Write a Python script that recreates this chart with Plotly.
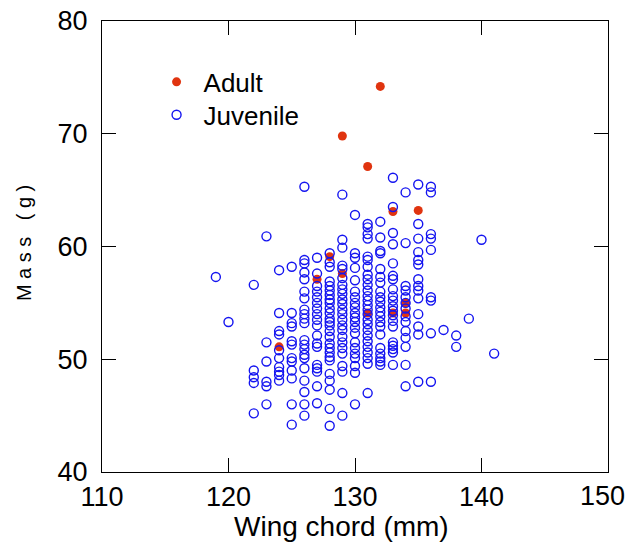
import plotly.graph_objects as go

# Wing chord (mm) and body mass (g) of adult birds
adult_wing = [124, 127, 128, 129, 129, 131, 131, 132, 133, 133, 134, 134, 135]
adult_mass = [51.1, 57.1, 59.1, 57.6, 69.8, 67.1, 54.1, 74.2, 63.1, 54.1, 54.1, 55.0, 63.2]

# Juvenile masses (g) grouped by wing chord (mm)
juvenile_by_wing = {
    119: [57.3],
    120: [53.3],
    122: [56.6, 49.0, 48.4, 47.9, 45.2],
    123: [60.9, 51.5, 49.8, 48.0, 47.6, 46.0],
    124: [57.9, 54.1, 52.5, 52.2, 50.8, 50.1, 49.3, 48.9, 48.6, 48.1],
    125: [58.2, 54.1, 53.2, 52.9, 51.6, 51.3, 50.1, 49.8, 49.0, 48.3, 46.0, 44.2],
    126: [65.3, 58.8, 58.5, 57.7, 57.1, 56.0, 55.4, 54.4, 54.0, 53.6, 53.2, 51.7,
          51.3, 50.9, 50.4, 50.1, 49.2, 48.1, 47.1, 46.0, 45.0],
    127: [59.0, 57.6, 56.5, 56.0, 55.5, 55.0, 54.5, 54.0, 53.5, 53.0, 52.1, 51.4,
          51.1, 49.5, 49.2, 48.9, 47.6, 46.1],
    128: [59.4, 58.6, 58.2, 56.9, 56.5, 56.1, 55.7, 55.3, 55.0, 54.5, 54.1, 53.6,
          53.3, 53.0, 52.5, 52.0, 51.4, 51.0, 50.6, 50.2, 49.9, 48.7, 48.1, 47.3,
          45.6, 44.1],
    129: [64.6, 60.6, 59.9, 58.3, 58.0, 57.2, 56.6, 56.2, 55.8, 55.3, 54.9, 54.4,
          54.0, 53.5, 53.0, 52.6, 52.0, 51.5, 51.0, 50.5, 49.4, 48.9, 47.0, 45.0],
    130: [62.8, 59.4, 59.0, 58.1, 57.0, 56.0, 55.5, 55.0, 54.6, 54.1, 53.7, 53.3,
          52.8, 52.3, 51.5, 51.0, 50.5, 50.1, 49.4, 48.8, 46.0],
    131: [62.0, 61.7, 61.1, 60.7, 59.1, 58.8, 58.2, 57.5, 57.1, 56.6, 56.1, 55.6,
          55.2, 54.8, 54.4, 54.0, 53.5, 53.1, 52.6, 52.1, 51.6, 51.1, 50.6, 50.1,
          49.6, 47.0],
    132: [62.2, 60.8, 59.6, 59.4, 58.0, 57.3, 56.8, 56.0, 55.5, 55.1, 54.6, 54.2,
          53.8, 53.3, 52.9, 52.2, 51.0, 50.5, 50.1, 49.8, 49.5],
    133: [66.1, 63.5, 61.2, 60.2, 58.5, 57.4, 57.1, 56.2, 55.6, 55.2, 54.7, 54.3,
          53.9, 53.4, 52.9, 51.5, 51.2, 50.9, 50.6, 49.5],
    134: [64.8, 60.3, 56.5, 56.1, 55.5, 55.0, 54.5, 53.8, 53.3, 52.5, 51.9, 51.1,
          49.5, 47.6],
    135: [65.5, 62.0, 60.7, 59.5, 58.8, 58.4, 57.1, 56.5, 56.1, 55.4, 54.0, 52.9,
          52.2, 48.0],
    136: [65.3, 64.8, 61.1, 60.7, 59.7, 55.5, 55.2, 52.3, 48.0],
    137: [52.6],
    138: [52.1, 51.1],
    139: [53.6],
    140: [60.6],
    141: [50.5],
}

juvenile_wing = [w for w, masses in juvenile_by_wing.items() for _ in masses]
juvenile_mass = [m for masses in juvenile_by_wing.values() for m in masses]

x_ticks = [110, 120, 130, 140, 150]
y_ticks = [40, 50, 60, 70, 80]
x_ticktext = ["110", "120", "130", "140", "150"]

RED = "#e0340f"
BLUE = "#1414f0"
FONT = "Liberation Sans, Arial, sans-serif"
TICK_SIZE = 27

fig = go.Figure()

fig.add_trace(go.Scatter(
    x=adult_wing, y=adult_mass, mode="markers", name="Adult", legend="legend",
    marker=dict(symbol="circle", size=9, color=RED, line=dict(width=0)),
))
fig.add_trace(go.Scatter(
    x=juvenile_wing, y=juvenile_mass, mode="markers", name="Juvenile", legend="legend2",
    marker=dict(symbol="circle-open", size=9, color=BLUE, line=dict(width=1.4, color=BLUE)),
))

axis_common = dict(
    showgrid=False, zeroline=False, showline=True, linecolor="black", linewidth=1.3,
    mirror="ticks", ticks="inside", ticklen=14, tickwidth=1.2, tickcolor="black",
    tickfont=dict(family=FONT, size=TICK_SIZE, color="black"),
    ticklabeloverflow="allow", automargin=False,
)

legend_common = dict(
    xanchor="left", yanchor="top", bgcolor="rgba(0,0,0,0)", borderwidth=0,
    font=dict(family=FONT, size=26, color="black"), itemwidth=44,
)

# the right-most x label sits against the page edge, so it is placed as an
# annotation on the x scale and pulled slightly inward
last_label = dict(
    text=x_ticktext[-1], xref="x", yref="paper", x=x_ticks[-1], y=0,
    xanchor="center", yanchor="middle", xshift=-6, yshift=-24, showarrow=False,
    font=dict(family=FONT, size=TICK_SIZE, color="black"),
)

fig.update_layout(
    width=628, height=546,
    margin=dict(l=102, r=20, t=21, b=74, autoexpand=False),
    paper_bgcolor="white", plot_bgcolor="white",
    font=dict(family=FONT, color="black"),
    showlegend=True,
    legend=dict(x=0.094, y=0.917, **legend_common),
    legend2=dict(x=0.094, y=0.844, **legend_common),
    xaxis=dict(
        range=[110, 150], tickvals=x_ticks, ticktext=x_ticktext[:-1] + [""],
        **axis_common,
    ),
    yaxis=dict(
        range=[40, 80], tickvals=y_ticks, ticktext=[str(v) for v in y_ticks],
        ticklabelstandoff=8,
        **axis_common,
    ),
    annotations=[
        last_label,
        dict(
            text="Wing chord (mm)", xref="paper", yref="paper",
            x=0.474, y=-0.12, xanchor="center", yanchor="middle", showarrow=False,
            font=dict(family=FONT, size=28, color="black"),
        ),
        dict(
            text='<span style="letter-spacing:5.5px">Mass (g)</span>',
            xref="paper", yref="paper", x=-0.154, y=0.5144,
            xanchor="center", yanchor="middle", textangle=-90, showarrow=False,
            font=dict(family=FONT, size=20, color="black"),
        ),
    ],
)

fig.write_html("out.html")
